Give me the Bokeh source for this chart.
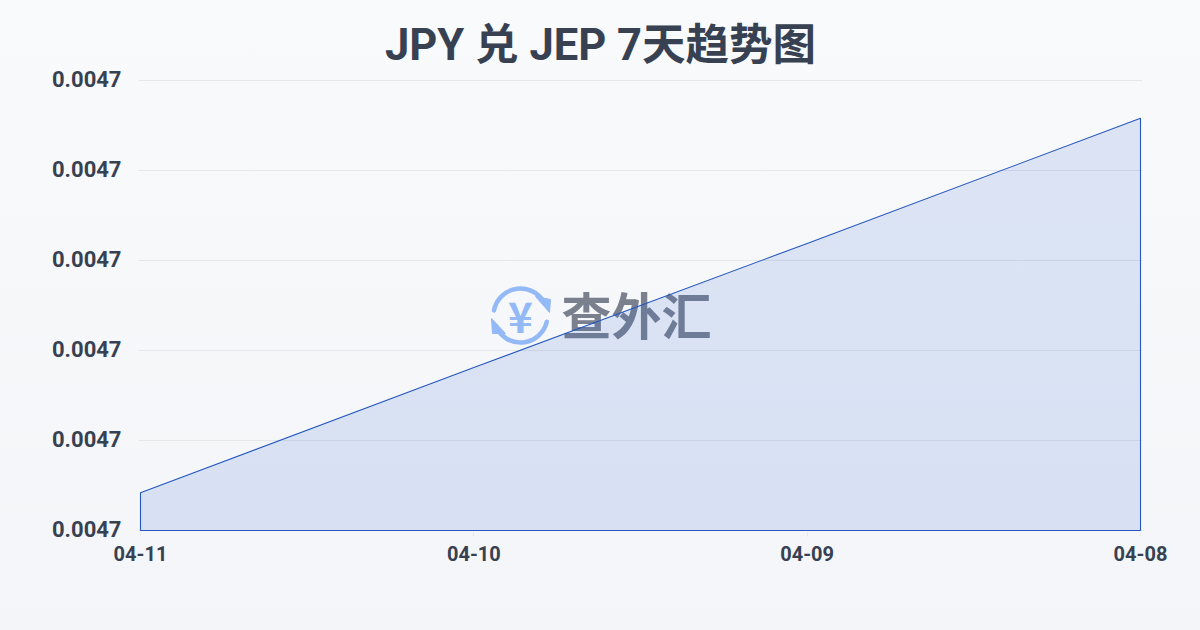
from bokeh.plotting import figure
from bokeh.embed import file_html
from bokeh.resources import INLINE
from bokeh.models import Range1d, FixedTicker, PrintfTickFormatter
from bokeh.core.properties import value

TITLE = "JPY 兑 JEP 7天趋势图"
dates = ["04-11", "04-10", "04-09", "04-08"]
rates = [0.00470042, 0.00470181, 0.00470319, 0.00470458]
y_ticks = [0.004700, 0.004701, 0.004702, 0.004703, 0.004704, 0.004705]
x_index = list(range(len(dates)))

FONT = "Roboto, 'Noto Sans CJK SC', sans-serif"
CJK = "Noto Sans CJK SC"
INK = "#374151"
BLUE = "#2458c0"

# plot area sits a few px outside the data box so edge strokes and the top grid line survive clipping
FL, FR, FT, FB = 138, 1142, 70, 532
DL, DR, DT, DB = 140, 1140, 80, 530
x_per_px = (x_index[-1] - x_index[0]) / (DR - DL)
y_per_px = (y_ticks[-1] - y_ticks[0]) / (DB - DT)
y0 = y_ticks[0] - (FB - DB) * y_per_px
y1 = y_ticks[-1] + (DT - FT) * y_per_px

p = figure(width=1200, height=630, output_backend="svg", toolbar_location=None,
           x_range=Range1d(x_index[0] - (DL - FL) * x_per_px, x_index[-1] + (FR - DR) * x_per_px),
           y_range=Range1d(y0, y1),
           min_border_left=FL, min_border_right=1200 - FR, min_border_top=FT, min_border_bottom=630 - FB,
           background_fill_color=None, border_fill_color=None, outline_line_color=None,
           styles={"position": "absolute", "left": "0", "top": "0",
                   "background": "linear-gradient(180deg,#f9fafc 0%,#f3f5f8 100%)"})

# pixel-space ranges for the watermark and title
p.extra_x_ranges["px"] = Range1d(FL, FR)
p.extra_y_ranges["px"] = Range1d(FB, FT)
# the y labels sit 2px above their grid lines
p.extra_y_ranges["labels"] = Range1d(y0 - 2 * y_per_px, y1 - 2 * y_per_px)

# watermark, under the area
ICON = "#93b9f6"
cx, cy, r = 520, 315, 27
p.arc(x=[cx, cx], y=[cy, cy], radius=r, start_angle=[0.45, 3.55], end_angle=[2.95, 6.05],
      line_color=ICON, line_width=4.5, line_cap="round", x_range_name="px", y_range_name="px")
p.patch(x=[535, 550, 549], y=[296, 299, 312], fill_color=ICON, line_color=ICON,
        x_range_name="px", y_range_name="px")
p.patch(x=[491, 505, 492], y=[318, 333, 333], fill_color=ICON, line_color=ICON,
        x_range_name="px", y_range_name="px")
p.text(x=[520], y=[314], text=["¥"], text_align="center", text_baseline="middle",
       text_color=ICON, text_font=value(CJK), text_font_style="bold",
       text_font_size="42px", x_range_name="px", y_range_name="px")
p.text(x=[636], y=[312], text=["查外汇"], text_align="center", text_baseline="middle",
       text_color="#7a808e", text_font=value(CJK), text_font_style="bold",
       text_font_size="50px", x_range_name="px", y_range_name="px")

# area with outline closed down to the baseline
base = y_ticks[0]
p.patch(x=[x_index[0]] + x_index + [x_index[-1]], y=[base] + rates + [base],
        fill_color="#2f66d8", fill_alpha=0.14, line_color=BLUE, line_width=1.1)

# title
p.text(x=[600], y=[45], text=[TITLE], text_align="center", text_baseline="middle",
       text_color=INK, text_font=value(FONT), text_font_style="bold", text_font_size="43.5px",
       x_range_name="px", y_range_name="px", level="overlay")

xa = p.xaxis[0]
xa.ticker = FixedTicker(ticks=x_index)
xa.major_label_overrides = {i: d for i, d in zip(x_index, dates)}
xa.axis_line_color = None
xa.major_tick_line_color = "#e5e7eb"
xa.major_tick_in = 0
xa.major_tick_out = 4
xa.minor_tick_line_color = None
xa.major_label_standoff = 9
xa.major_label_text_font = FONT
xa.major_label_text_font_style = "bold"
xa.major_label_text_font_size = "20px"
xa.major_label_text_color = INK

ya = p.yaxis[0]
ya.y_range_name = "labels"
ya.ticker = FixedTicker(ticks=y_ticks)
ya.formatter = PrintfTickFormatter(format="%.4f")
ya.axis_line_color = None
ya.major_tick_line_color = None
ya.major_tick_in = 0
ya.major_tick_out = 0
ya.minor_tick_line_color = None
ya.major_label_standoff = 17
ya.major_label_text_font = FONT
ya.major_label_text_font_style = "bold"
ya.major_label_text_font_size = "22px"
ya.major_label_text_color = INK

p.xgrid.visible = False
p.ygrid[0].axis = None
p.ygrid[0].ticker = FixedTicker(ticks=y_ticks)
p.ygrid.grid_line_color = "#e5e7eb"
p.ygrid.grid_line_width = 1

open("out.html", "w").write(file_html(p, INLINE))
